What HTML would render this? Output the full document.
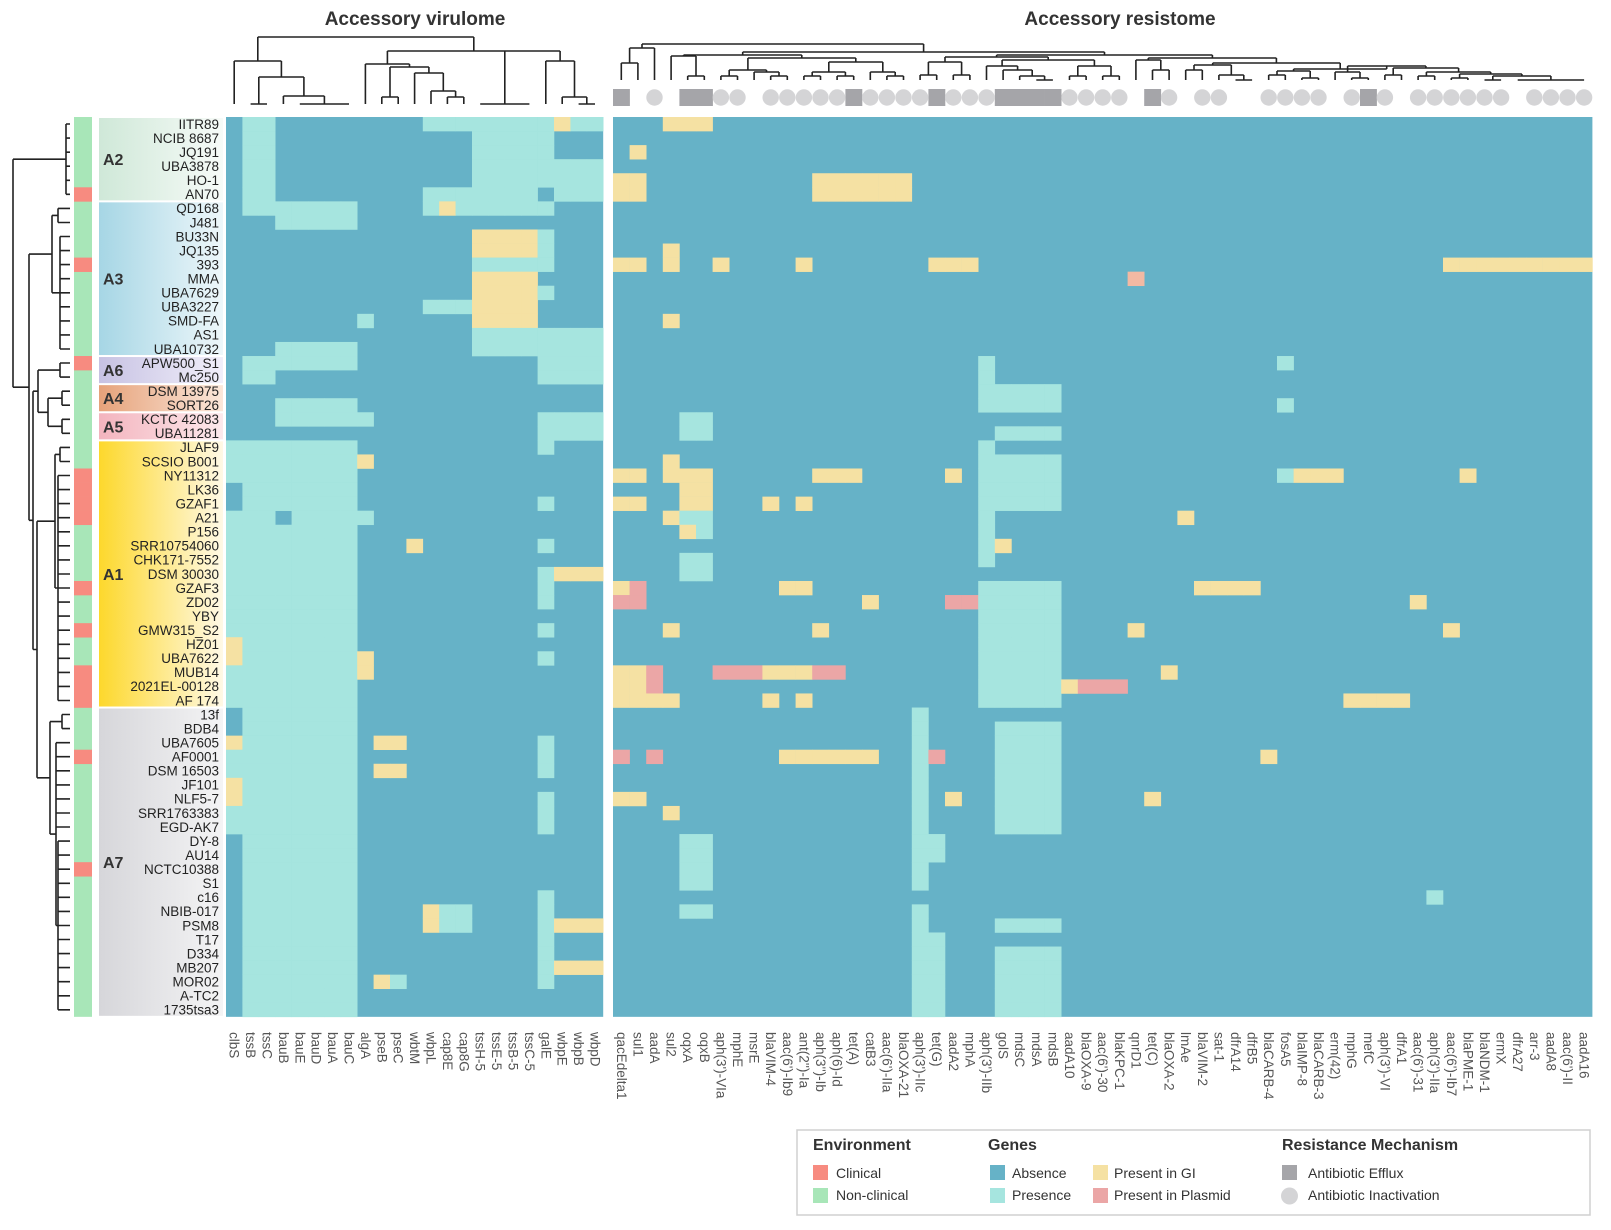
<!DOCTYPE html>
<html><head><meta charset="utf-8">
<style>
html,body{margin:0;padding:0;background:#fff;}
svg{display:block;font-family:"Liberation Sans",sans-serif;}
</style></head>
<body>
<svg id="s" width="1611" height="1230" viewBox="0 0 1611 1230" xmlns="http://www.w3.org/2000/svg">
<defs>
<linearGradient id="gA2" x1="0" x2="1"><stop offset="0" stop-color="#cfe8d8"/><stop offset="1" stop-color="#f7fbf8"/></linearGradient>
<linearGradient id="gA3" x1="0" x2="1"><stop offset="0" stop-color="#a6d6e5"/><stop offset="1" stop-color="#eef7fa"/></linearGradient>
<linearGradient id="gA6" x1="0" x2="1"><stop offset="0" stop-color="#c7c2e3"/><stop offset="1" stop-color="#f1effa"/></linearGradient>
<linearGradient id="gA4" x1="0" x2="1"><stop offset="0" stop-color="#e6a27a"/><stop offset="1" stop-color="#fbe7da"/></linearGradient>
<linearGradient id="gA5" x1="0" x2="1"><stop offset="0" stop-color="#f3b4be"/><stop offset="1" stop-color="#fde9ec"/></linearGradient>
<linearGradient id="gA1" x1="0" x2="1"><stop offset="0" stop-color="#fdd82c"/><stop offset="1" stop-color="#fff9e6"/></linearGradient>
<linearGradient id="gA7" x1="0" x2="1"><stop offset="0" stop-color="#d6d6da"/><stop offset="1" stop-color="#f4f4f5"/></linearGradient>
</defs>
<text x="415" y="25" text-anchor="middle" font-size="19" font-weight="bold" fill="#333">Accessory virulome</text>
<text x="1120" y="25" text-anchor="middle" font-size="19" font-weight="bold" fill="#333">Accessory resistome</text>
<g id="g"></g>
<!-- legend -->
<rect x="797" y="1130" width="793" height="85" fill="#fff" stroke="#d0d0d0" stroke-width="1.5"/>
<g font-size="16" font-weight="bold" fill="#333">
<text x="813" y="1150">Environment</text>
<text x="988" y="1150">Genes</text>
<text x="1282" y="1150">Resistance Mechanism</text>
</g>
<g font-size="14" fill="#333">
<rect x="813" y="1165" width="15" height="15" fill="#f78b80"/><text x="836" y="1178">Clinical</text>
<rect x="813" y="1188" width="15" height="15" fill="#a8e6b8"/><text x="836" y="1200">Non-clinical</text>
<rect x="990" y="1165" width="15" height="15" fill="#66b2c7"/><text x="1012" y="1178">Absence</text>
<rect x="990" y="1188" width="15" height="15" fill="#a6e5df"/><text x="1012" y="1200">Presence</text>
<rect x="1093" y="1165" width="15" height="15" fill="#f5e1a3"/><text x="1114" y="1178">Present in GI</text>
<rect x="1093" y="1188" width="15" height="15" fill="#eba6a6"/><text x="1114" y="1200">Present in Plasmid</text>
<rect x="1282" y="1165" width="15" height="15" fill="#a5a5a9"/><text x="1308" y="1178">Antibiotic Efflux</text>
<circle cx="1289.5" cy="1196" r="8.5" fill="#d4d4d6"/><text x="1308" y="1200">Antibiotic Inactivation</text>
</g>
</svg>
<script>
(function(){
var NS="http://www.w3.org/2000/svg",G=document.getElementById("g");
function el(t,a,txt){var e=document.createElementNS(NS,t);for(var k in a)e.setAttribute(k,a[k]);if(txt!=null)e.textContent=txt;G.appendChild(e);return e;}
var rows=["IITR89","NCIB 8687","JQ191","UBA3878","HO-1","AN70","QD168","J481","BU33N","JQ135","393","MMA","UBA7629","UBA3227","SMD-FA","AS1","UBA10732","APW500_S1","Mc250","DSM 13975","SORT26","KCTC 42083","UBA11281","JLAF9","SCSIO B001","NY11312","LK36","GZAF1","A21","P156","SRR10754060","CHK171-7552","DSM 30030","GZAF3","ZD02","YBY","GMW315_S2","HZ01","UBA7622","MUB14","2021EL-00128","AF 174","13f","BDB4","UBA7605","AF0001","DSM 16503","JF101","NLF5-7","SRR1763383","EGD-AK7","DY-8","AU14","NCTC10388","S1","c16","NBIB-017","PSM8","T17","D334","MB207","MOR02","A-TC2","1735tsa3"];
var vc=["clbS","tssB","tssC","bauB","bauE","bauD","bauA","bauC","algA","pseB","pseC","wbtM","wbpL","cap8E","cap8G","tssH-5","tssE-5","tssB-5","tssC-5","galE","wbpE","wbpB","wbpD"];
var rc=["qacEdelta1","sul1","aadA","sul2","oqxA","oqxB","aph(3')-VIa","mphE","msrE","blaVIM-4","aac(6')-Ib9","ant(2'')-Ia","aph(3'')-Ib","aph(6)-Id","tet(A)","catB3","aac(6')-IIa","blaOXA-21","aph(3')-IIc","tet(G)","aadA2","mphA","aph(3')-IIb","golS","mdsC","mdsA","mdsB","aadA10","blaOXA-9","aac(6')-30","blaKPC-1","qnrD1","tet(C)","blaOXA-2","lmAe","blaVIM-2","sat-1","dfrA14","dfrB5","blaCARB-4","fosA5","blaIMP-8","blaCARB-3","erm(42)","mphG","mefC","aph(3')-VI","dfrA1","aac(6')-31","aph(3')-IIa","aac(6')-Ib7","blaPME-1","blaNDM-1","ermX","dfrA27","arr-3","aadA8","aac(6')-II","aadA16"];
var Y0=117,RH=14.06,VX=226,VW=16.4,RX=613,RW=16.6;
var N=64;
function grid(nc){var g=[];for(var r=0;r<N;r++){g.push([]);for(var c=0;c<nc;c++)g[r].push(0);}return g;}
var V=grid(23),R=grid(59);
function S(g,r0,r1,c0,c1,t){for(var r=r0;r<=r1;r++)for(var c=c0;c<=c1;c++)g[r][c]=t;}
// virulome
S(V,0,5,1,2,1);
S(V,0,0,12,19,1);V[0][20]=2;S(V,0,0,21,22,1);
S(V,1,2,15,19,1);S(V,3,4,15,22,1);
S(V,5,5,12,18,1);S(V,5,5,20,22,1);
S(V,6,6,1,7,1);V[6][12]=1;V[6][13]=2;S(V,6,6,14,19,1);
S(V,7,7,3,7,1);
S(V,8,9,15,18,2);S(V,8,9,19,19,1);
S(V,10,10,15,19,1);S(V,11,11,15,18,2);
S(V,12,12,15,18,2);V[12][19]=1;
S(V,13,13,12,14,1);S(V,13,13,15,18,2);
V[14][8]=1;S(V,14,14,15,18,2);
S(V,15,15,15,22,1);S(V,16,16,3,7,1);S(V,16,16,15,22,1);
S(V,17,17,1,7,1);S(V,17,17,19,22,1);
S(V,18,18,1,2,1);S(V,18,18,19,22,1);
S(V,20,20,3,7,1);S(V,21,21,3,8,1);S(V,21,21,19,22,1);S(V,22,22,19,22,1);V[23][19]=1;
S(V,23,41,0,7,1);V[26][0]=0;V[27][0]=0;V[28][3]=0;
V[24][8]=2;V[27][19]=1;V[28][8]=1;V[30][11]=2;V[30][19]=1;V[32][19]=1;S(V,32,32,20,22,2);
V[33][19]=1;V[34][19]=1;V[36][19]=1;V[37][0]=2;V[38][0]=2;V[38][19]=1;V[38][8]=2;V[39][8]=2;
S(V,42,63,1,7,1);V[44][0]=2;V[45][0]=1;V[46][0]=1;V[47][0]=2;V[48][0]=2;V[49][0]=1;V[50][0]=1;
S(V,44,44,9,10,2);S(V,46,46,9,10,2);
S(V,44,46,19,19,1);S(V,48,50,19,19,1);S(V,55,61,19,19,1);
S(V,56,57,12,12,2);S(V,56,57,13,14,1);
S(V,57,57,20,22,2);S(V,60,60,20,22,2);V[61][9]=2;V[61][10]=1;
// resistome
S(R,0,0,3,5,2);R[2][1]=2;S(R,4,5,0,1,2);S(R,4,5,12,17,2);
R[9][3]=2;S(R,10,10,0,1,2);R[10][3]=2;R[10][6]=2;R[10][11]=2;S(R,10,10,19,21,2);S(R,10,10,50,58,2);
R[11][31]=4;R[14][3]=2;
S(R,17,20,22,22,1);S(R,23,31,22,22,1);
S(R,19,20,23,26,1);S(R,22,22,23,26,1);S(R,24,27,23,26,1);
S(R,21,22,4,5,1);R[17][40]=1;R[20][40]=1;
R[24][3]=2;S(R,25,25,0,1,2);S(R,25,25,3,5,2);S(R,25,25,12,14,2);R[25][20]=2;R[25][40]=1;S(R,25,25,41,43,2);R[25][51]=2;
S(R,26,26,4,5,2);S(R,27,27,0,1,2);S(R,27,27,4,5,2);R[27][9]=2;R[27][11]=2;
R[28][3]=2;S(R,28,28,4,5,1);R[28][34]=2;R[29][4]=2;R[29][5]=1;R[30][23]=2;S(R,31,32,4,5,1);
S(R,33,41,22,26,1);
R[33][0]=2;R[33][1]=3;S(R,33,33,10,11,2);S(R,33,33,35,38,2);
S(R,34,34,0,1,3);R[34][15]=2;S(R,34,34,20,21,3);R[34][48]=2;
R[36][3]=2;R[36][12]=2;R[36][31]=2;R[36][50]=2;
S(R,39,39,0,1,2);R[39][2]=3;S(R,39,39,6,8,3);S(R,39,39,9,11,2);S(R,39,39,12,13,3);R[39][33]=2;
S(R,40,40,0,1,2);R[40][2]=3;R[40][27]=2;S(R,40,40,28,30,3);
S(R,41,41,0,3,2);R[41][9]=2;R[41][11]=2;S(R,41,41,44,47,2);
S(R,42,54,18,18,1);S(R,56,63,18,18,1);
S(R,43,50,23,26,1);S(R,57,57,23,26,1);S(R,59,63,23,26,1);
S(R,51,52,19,19,1);S(R,58,63,19,19,1);
R[45][0]=3;R[45][2]=3;S(R,45,45,10,15,2);R[45][19]=3;R[45][39]=2;
S(R,48,48,0,1,2);R[48][20]=2;R[48][32]=2;R[49][3]=2;
S(R,51,54,4,5,1);R[55][49]=1;S(R,56,56,4,5,1);
var COL=["#66b2c7","#a6e5df","#f5e1a3","#eba6a6","#f2b9a3"];
function drawGrid(g,x0,w,nc){
 el("rect",{x:x0,y:Y0,width:w*nc,height:RH*N,fill:COL[0]});
 for(var r=0;r<N;r++)for(var c=0;c<nc;c++){var t=g[r][c];if(t)el("rect",{x:(x0+c*w).toFixed(2),y:(Y0+r*RH).toFixed(2),width:(w+0.3).toFixed(2),height:(RH+0.3).toFixed(2),fill:COL[t]});}
}
drawGrid(V,VX,VW,23);drawGrid(R,RX,RW,59);
// env strip
var clin=[5,10,17,25,26,27,28,33,36,39,40,41,45,53];
el("rect",{x:74,y:Y0,width:18,height:RH*N,fill:"#a8e6b8"});
clin.forEach(function(r){el("rect",{x:74,y:(Y0+r*RH).toFixed(2),width:18,height:(RH+0.3).toFixed(2),fill:"#f78b80"});});
// groups
var grp=[["A2",0,5,"gA2"],["A3",6,16,"gA3"],["A6",17,18,"gA6"],["A4",19,20,"gA4"],["A5",21,22,"gA5"],["A1",23,41,"gA1"],["A7",42,63,"gA7"]];
grp.forEach(function(g){var y=Y0+g[1]*RH,h=(g[2]-g[1]+1)*RH;
 el("rect",{x:99,y:y+1,width:124,height:h-2,fill:"url(#"+g[3]+")"});
 el("text",{x:103,y:y+h/2+6,"font-size":16,"font-weight":"bold",fill:"#333"},g[0]);});
rows.forEach(function(n,r){el("text",{x:219,y:(Y0+r*RH+RH/2+4.8).toFixed(2),"text-anchor":"end","font-size":13.5,fill:"#222"},n);});
// column labels
function clab(arr,x0,w){arr.forEach(function(n,i){var x=x0+w*i+w/2-4.5,y=1032;el("text",{x:x,y:y,"font-size":13.5,fill:"#555",transform:"rotate(90 "+x+" "+y+")"},n);});}
clab(vc,VX,VW);clab(rc,RX,RW);
// markers
var sq=[0,4,5,14,19,23,24,25,26,32,45],ci=[2,6,7,9,10,11,12,13,15,16,17,18,20,21,22,27,28,29,30,33,35,36,39,40,41,42,44,46,48,49,50,51,52,53,55,56,57,58];
sq.forEach(function(c){el("rect",{x:RX+c*RW,y:89,width:RW+0.3,height:17,fill:"#a5a5a9"});});
ci.forEach(function(c){el("circle",{cx:RX+c*RW+RW/2,cy:97.5,r:8.2,fill:"#d4d4d6"});});
// dendrograms
var P=[];
function tree(node,pos,leafD,orient){
 // returns [pos, depth]
 if(typeof node==="number")return [pos(node),leafD];
 var h=node[0],ch=[];
 for(var i=1;i<node.length;i++)ch.push(tree(node[i],pos,leafD,orient));
 var mn=1e9,mx=-1e9,sum=0;
 ch.forEach(function(c){mn=Math.min(mn,c[0]);mx=Math.max(mx,c[0]);sum+=c[0];
  if(orient==="v")P.push("M"+c[0].toFixed(1)+" "+c[1]+"V"+h);else P.push("M"+c[1]+" "+c[0].toFixed(1)+"H"+h);});
 if(orient==="v")P.push("M"+mn.toFixed(1)+" "+h+"H"+mx.toFixed(1));else P.push("M"+h+" "+mn.toFixed(1)+"V"+mx.toFixed(1));
 return [(mn+mx)/2,h];
}
function vpos(i){return VX+VW*i+VW/2;}function rpos(i){return RX+RW*i+RW/2;}function ypos(i){return Y0+RH*i+RH/2;}
var VT=[37,[61,0,[77,[104,1,2],[96,3,[104,4,5,6,7]]]],[51,[64,8,[67,[97,9,10],[73,11,[91,12,[97,13,14]]]]],[104,15,16,17,18],[61,19,[97,20,[104,21,22]]]]];
tree(VT,vpos,104,"v");
var RT=[44,[48,[63,0,1],2],[52,
 [55,[56,3,[76,4,5]],[58,[70,[76,6,7],[72,8,[76,9,10]]],[62,[72,[76,11,12],[76,13,14]],[72,15,[76,16,17]]]]],
 [55,[57,[62,[75,18,19],[75,20,21]],[60,[66,22,[70,23,[76,24,[80,25,26]]]],[66,[76,27,28],[76,29,30]]]],
  [58,[60,31,[70,32,33]],[63,[65,[70,34,35],[75,36,[80,37,38]]],[69,[71,[75,39,40],[78,41,42]],[66,[72,43,[78,44,45]],[68,[75,46,47],[72,[76,48,49],[74,[78,50,51],[76,[80,52,53],[80,54,55,56,57,58]]]]]]]]]]]];
tree(RT,rpos,80,"v");
var RWT=[13,[66,0,1,2,3,4,5],[29,[52,[58,6,7],[60,8,9,10,11,12,13,14,15,16]],[33,[38,[60,17,18],[48,[62,19,20],[62,21,22]]],[37,[55,[60,23,24],[58,25,26,27,28,29,30,31,32,33,34,35,36,37,38,39,40,41]],[50,[62,42,43],[56,44,45,46,47,48,49,50,[58,51,52,53,54,55,56,57,58,59,60,61,62,63]]]]]]];
tree(RWT,ypos,70,"h");
el("path",{d:P.join(""),stroke:"#222",fill:"none","stroke-width":1.6});
})();
</script>
</body></html>
